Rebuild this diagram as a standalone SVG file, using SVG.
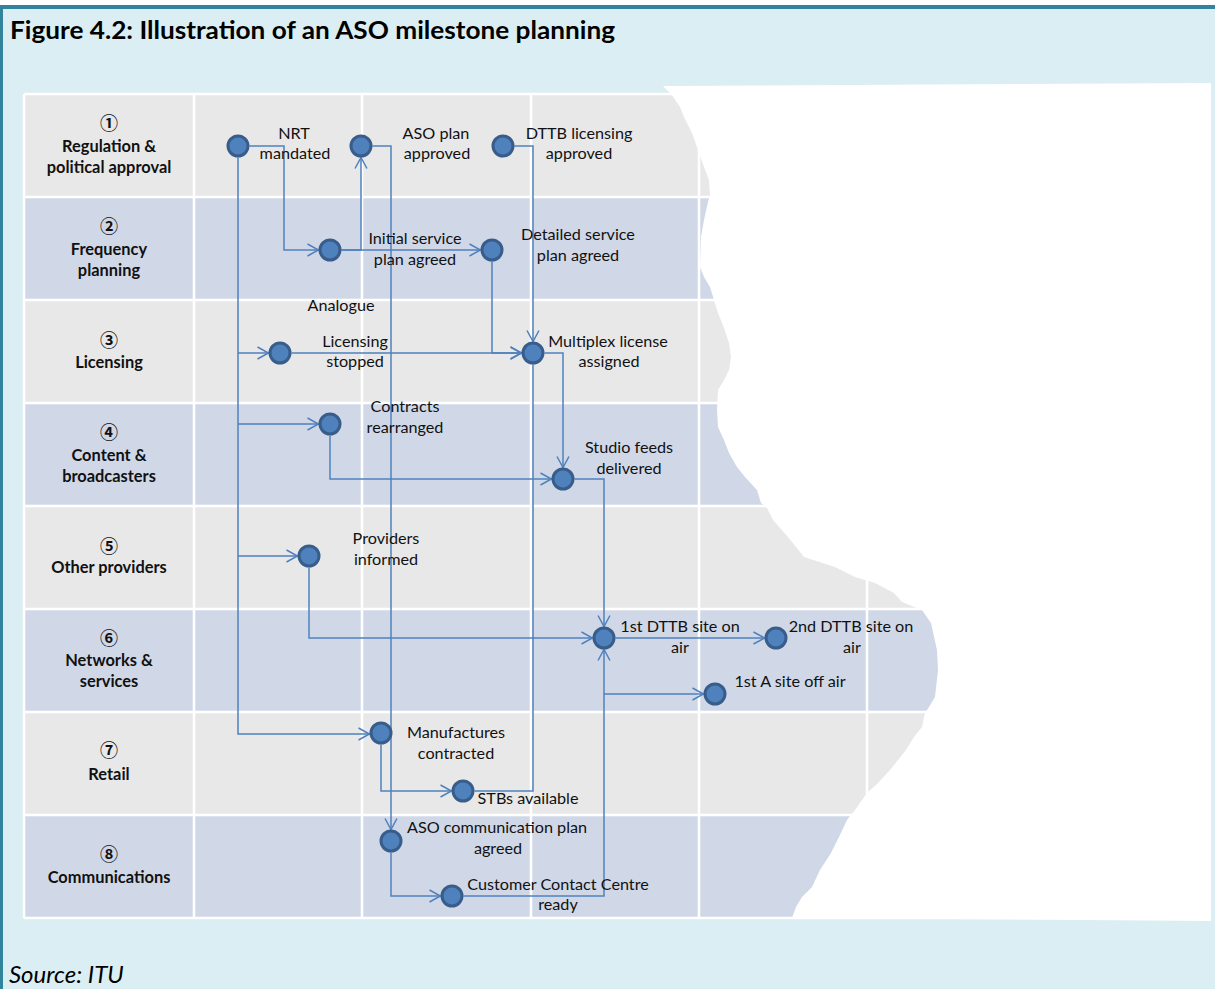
<svg xmlns="http://www.w3.org/2000/svg" width="1215" height="989" viewBox="0 0 1215 989">
<defs>
<style>
.ra{fill:#E8E8E8}
.rb{fill:#D0D8E8}
.grid{stroke:#FFFFFF;stroke-width:2.5;fill:none}
.lbl{font-family:Lato,'Liberation Sans',sans-serif;font-weight:bold;font-size:16.4px;text-anchor:middle;fill:#111}
.num{font-family:'Noto Sans CJK SC','DejaVu Sans',sans-serif;font-weight:bold;font-size:18px;text-anchor:middle;fill:#111}
.nt{font-family:Lato,'Liberation Sans',sans-serif;font-size:16.2px;text-anchor:middle;fill:#111}
.node{fill:#4F81BD;stroke:#385D8A;stroke-width:3}
.conn{fill:none;stroke:#4F81BD;stroke-width:1.5}
.arr{marker-end:url(#ah)}
</style>
<marker id="ah" markerUnits="userSpaceOnUse" markerWidth="14" markerHeight="14" viewBox="-1 -7 13 14" refX="11" refY="0" orient="auto">
<path d="M0,-6 L11,0 L0,6" fill="none" stroke="#4F81BD" stroke-width="1.5"/>
</marker>
</defs>
<rect x="0" y="0" width="1215" height="989" fill="#FFFFFF"/>
<rect x="0" y="5" width="1215" height="984" fill="#DBEEF3"/>
<rect x="0" y="5" width="1215" height="4" fill="#31849B"/>
<rect x="0" y="5" width="3" height="984" fill="#31849B"/>
<text x="10" y="39" font-family="Lato,'Liberation Sans',sans-serif" font-weight="bold" font-size="24" fill="#000" textLength="605" lengthAdjust="spacingAndGlyphs">Figure 4.2: Illustration of an ASO milestone planning</text>

<g id="table">
<rect class="ra" x="24" y="94" width="1180" height="103"/>
<rect class="rb" x="24" y="197" width="1180" height="103"/>
<rect class="ra" x="24" y="300" width="1180" height="103"/>
<rect class="rb" x="24" y="403" width="1180" height="103"/>
<rect class="ra" x="24" y="506" width="1180" height="103"/>
<rect class="rb" x="24" y="609" width="1180" height="103"/>
<rect class="ra" x="24" y="712" width="1180" height="103"/>
<rect class="rb" x="24" y="815" width="1180" height="103"/>
<path class="grid" d="M24,94 H1204 M24,197 H1204 M24,300 H1204 M24,403 H1204 M24,506 H1204 M24,609 H1204 M24,712 H1204 M24,815 H1204 M24,918 H1204 M24,94 V918 M194,94 V918 M362,94 V918 M531,94 V918 M699,94 V918 M867,94 V918 M1035,94 V918"/>
</g>

<g id="row-labels">
<text class="num" x="109" y="130">①</text>
<text class="lbl" x="109" y="152">Regulation &amp;</text>
<text class="lbl" x="109" y="173">political approval</text>
<text class="num" x="109" y="233">②</text>
<text class="lbl" x="109" y="255">Frequency</text>
<text class="lbl" x="109" y="276">planning</text>
<text class="num" x="109" y="347">③</text>
<text class="lbl" x="109" y="368">Licensing</text>
<text class="num" x="109" y="439">④</text>
<text class="lbl" x="109" y="461">Content &amp;</text>
<text class="lbl" x="109" y="482">broadcasters</text>
<text class="num" x="109" y="553">⑤</text>
<text class="lbl" x="109" y="573">Other providers</text>
<text class="num" x="109" y="645">⑥</text>
<text class="lbl" x="109" y="666">Networks &amp;</text>
<text class="lbl" x="109" y="687">services</text>
<text class="num" x="109" y="757">⑦</text>
<text class="lbl" x="109" y="780">Retail</text>
<text class="num" x="109" y="861">⑧</text>
<text class="lbl" x="109" y="883">Communications</text>
</g>

<path id="paper" fill="#FFFFFF" d="M663,86 L1211,83 L1211,921 L792,918 L796,907 L802,897 L812,887 L820,870 L831,853 L839,837 L847,820 L855,810 L867,793 L878,783 L890,770 L898,760 L906,750 L914,737 L922,727 L925,713 L929,707 L935,697 L938,670 L937,650 L931,623 L922,610 L902,602 L894,593 L875,583 L855,577 L835,567 L804,557 L788,537 L773,520 L767,508 L761,503 L757,490 L745,477 L737,467 L729,453 L724,440 L718,427 L717,410 L718,390 L724,380 L729,370 L731,357 L729,343 L724,328 L718,313 L714,300 L710,287 L704,277 L700,267 L701,237 L704,220 L708,202 L710,195 L709,180 L704,167 L698,150 L692,133 L684,117 L680,107 L672,95 Z"/>

<g id="connectors">
<path class="conn arr" d="M238,157.5 V734 H369.5"/>
<path class="conn arr" d="M238,353 H268.5"/>
<path class="conn arr" d="M238,424 H318.5"/>
<path class="conn arr" d="M238,556 H297.5"/>
<path class="conn arr" d="M249.5,146 H284 V250 H318.5"/>
<path class="conn arr" d="M341.5,250 H361 V157.5"/>
<path class="conn arr" d="M341.5,250 H480.5"/>
<path class="conn arr" d="M372.5,146 H391 V829.5"/>
<path class="conn arr" d="M514.5,146 H533 V341.5"/>
<path class="conn arr" d="M492,261.5 V353 H521.5"/>
<path class="conn arr" d="M291.5,353 H521.5"/>
<path class="conn arr" d="M544.5,353 H563 V467.5"/>
<path class="conn" d="M533,364.5 V791 H474.5"/>
<path class="conn arr" d="M330,435.5 V479 H551.5"/>
<path class="conn arr" d="M574.5,479 H604 V626.5"/>
<path class="conn arr" d="M309,567.5 V638 H592.5"/>
<path class="conn arr" d="M615.5,638 H764.5"/>
<path class="conn arr" d="M463.5,896 H604 V649.5"/>
<path class="conn arr" d="M604,694 H703.5"/>
<path class="conn arr" d="M381,744.5 V791 H451.5"/>
<path class="conn arr" d="M391,852.5 V896 H440.5"/>
</g>

<g id="n-nrt"><circle class="node" cx="238" cy="146" r="10"/><text class="nt" x="294" y="139">NRT</text><text class="nt" x="295" y="159">mandated</text></g>
<g id="n-aso-plan"><circle class="node" cx="361" cy="146" r="10"/><text class="nt" x="436" y="139">ASO plan</text><text class="nt" x="437" y="159">approved</text></g>
<g id="n-dttb-lic"><circle class="node" cx="503" cy="146" r="10"/><text class="nt" x="579" y="139">DTTB licensing</text><text class="nt" x="579" y="159">approved</text></g>
<g id="n-initial"><circle class="node" cx="330" cy="250" r="10"/><text class="nt" x="415" y="244">Initial service</text><text class="nt" x="415" y="265">plan agreed</text></g>
<g id="n-detailed"><circle class="node" cx="492" cy="250" r="10"/><text class="nt" x="578" y="240">Detailed service</text><text class="nt" x="578" y="261">plan agreed</text></g>
<g id="n-lic-stopped"><circle class="node" cx="280" cy="353" r="10"/><text class="nt" x="341" y="311" font-size="14.5">Analogue</text><text class="nt" x="355" y="347">Licensing</text><text class="nt" x="355" y="367">stopped</text></g>
<g id="n-multiplex"><circle class="node" cx="533" cy="353" r="10"/><text class="nt" x="608" y="347">Multiplex license</text><text class="nt" x="609" y="367">assigned</text></g>
<g id="n-contracts"><circle class="node" cx="330" cy="424" r="10"/><text class="nt" x="405" y="412">Contracts</text><text class="nt" x="405" y="433">rearranged</text></g>
<g id="n-studio"><circle class="node" cx="563" cy="479" r="10"/><text class="nt" x="629" y="453">Studio feeds</text><text class="nt" x="629" y="474">delivered</text></g>
<g id="n-providers"><circle class="node" cx="309" cy="556" r="10"/><text class="nt" x="386" y="544">Providers</text><text class="nt" x="386" y="565">informed</text></g>
<g id="n-dttb1"><circle class="node" cx="604" cy="638" r="10"/><text class="nt" x="680" y="632">1st DTTB  site on</text><text class="nt" x="680" y="653">air</text></g>
<g id="n-dttb2"><circle class="node" cx="776" cy="638" r="10"/><text class="nt" x="851" y="632">2nd DTTB  site on</text><text class="nt" x="852" y="653">air</text></g>
<g id="n-asite"><circle class="node" cx="715" cy="694" r="10"/><text class="nt" x="790" y="687">1st A site off air</text></g>
<g id="n-manuf"><circle class="node" cx="381" cy="733" r="10"/><text class="nt" x="456" y="738">Manufactures</text><text class="nt" x="456" y="759">contracted</text></g>
<g id="n-stbs"><circle class="node" cx="463" cy="791" r="10"/><text class="nt" x="528" y="804">STBs available</text></g>
<g id="n-aso-comm"><circle class="node" cx="391" cy="841" r="10"/><text class="nt" x="497" y="833">ASO communication  plan</text><text class="nt" x="498" y="854">agreed</text></g>
<g id="n-ccc"><circle class="node" cx="452" cy="896" r="10"/><text class="nt" x="558" y="890">Customer Contact Centre</text><text class="nt" x="558" y="910">ready</text></g>

<text x="9" y="983" font-family="Lato,'Liberation Sans',sans-serif" font-style="italic" font-size="24" fill="#000">Source: ITU</text>
</svg>
